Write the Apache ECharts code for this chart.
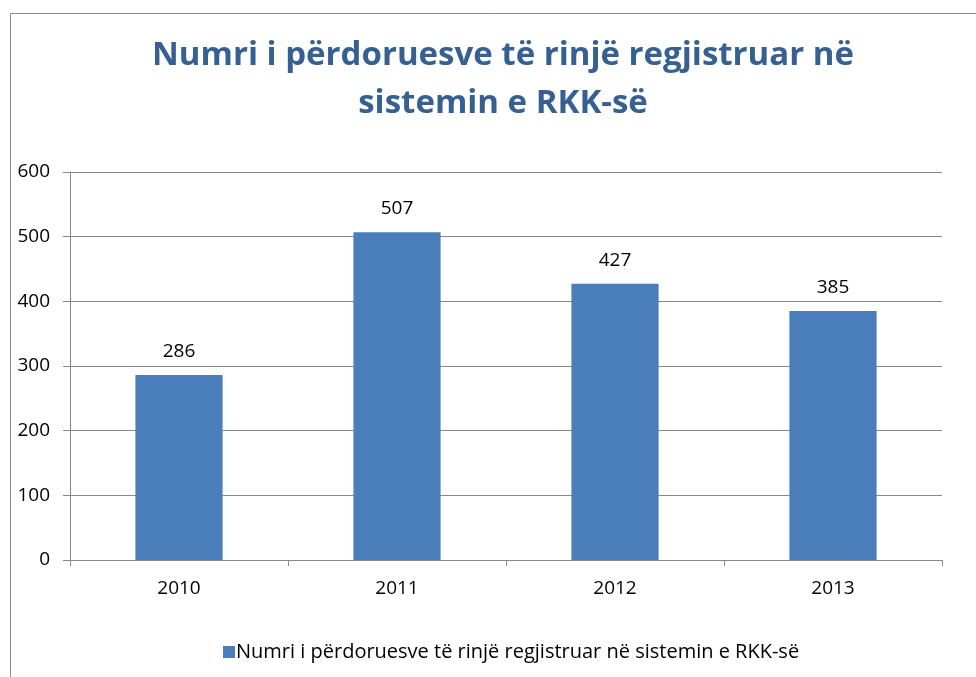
<!DOCTYPE html>
<html>
<head>
<meta charset="utf-8">
<script src="https://cdn.jsdelivr.net/npm/echarts@6/dist/echarts.min.js"></script>
<style>
  html, body { margin: 0; padding: 0; background: #fff; }
  #chart { width: 976px; height: 677px; }
</style>
</head>
<body>
<div id="chart"></div>
<script>
// chart data
const years = ["2010", "2011", "2012", "2013"];
const newUsers = [286, 507, 427, 385];
const seriesName = "Numri i përdoruesve të rinjë regjistruar në sistemin e RKK-së";
const titleText = "Numri i përdoruesve të rinjë regjistruar në\nsistemin e RKK-së";

const fontFam = "'Open Sans', Lato, sans-serif";
const chart = echarts.init(document.getElementById("chart"));

chart.setOption({
  animation: false,
  graphic: [
    {
      // outer frame, runs off the right and bottom edges
      type: "rect",
      left: 8,
      top: 11,
      shape: { width: 1000, height: 700 },
      style: { fill: "none", stroke: "#888", lineWidth: 1 },
      silent: true
    }
  ],
  title: {
    text: titleText,
    left: 498,
    top: 27,
    textAlign: "center",
    textStyle: {
      color: "#376092",
      fontFamily: fontFam,
      fontWeight: "bold",
      fontSize: 33,
      lineHeight: 48
    }
  },
  legend: {
    top: 637,
    left: 218,
    itemWidth: 12,
    itemHeight: 12,
    itemGap: 10,
    icon: "rect",
    textStyle: { fontFamily: fontFam, fontSize: 20, color: "#000", padding: [0, 0, 0, -4] },
    data: [seriesName]
  },
  grid: {
    left: 70,
    right: 34,
    top: 172,
    bottom: 117
  },
  xAxis: {
    type: "category",
    data: years,
    axisLine: { lineStyle: { color: "#888", width: 1 } },
    axisTick: { show: true, length: 6, alignWithLabel: false, lineStyle: { color: "#888" } },
    axisLabel: { fontFamily: fontFam, fontSize: 19, color: "#000", margin: 19 }
  },
  yAxis: {
    type: "value",
    min: 0,
    max: 600,
    interval: 100,
    axisLine: { show: true, lineStyle: { color: "#888", width: 1 } },
    axisTick: { show: true, length: 7, lineStyle: { color: "#888" } },
    splitLine: { lineStyle: { color: "#888", width: 1 } },
    axisLabel: { fontFamily: fontFam, fontSize: 19, color: "#000", margin: 20 }
  },
  series: [
    {
      name: seriesName,
      type: "bar",
      data: newUsers,
      barWidth: "40%",
      itemStyle: { color: "#4a7ebb" },
      label: {
        show: true,
        position: "top",
        distance: 14,
        fontFamily: fontFam,
        fontSize: 19,
        color: "#000"
      }
    }
  ]
});
</script>
</body>
</html>
